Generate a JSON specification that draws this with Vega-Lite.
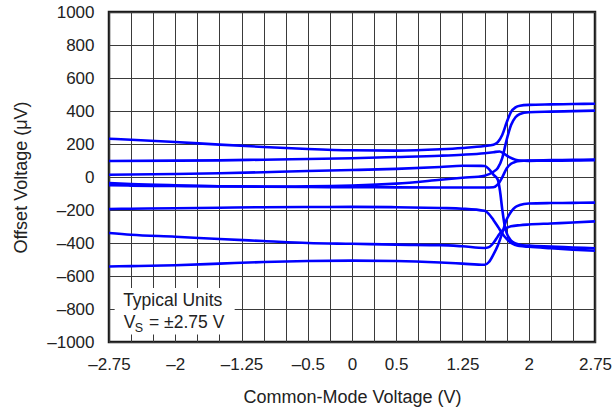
{
  "$schema": "https://vega.github.io/schema/vega-lite/v6.json",
  "width": 486,
  "height": 330,
  "autosize": "none",
  "padding": {"left": 109, "top": 12, "right": 19, "bottom": 66},
  "background": "white",
  "config": {
    "font": "Liberation Sans",
    "view": {"stroke": "#1a1a1a", "strokeWidth": 2.5},
    "axis": {
      "domain": false,
      "ticks": false,
      "grid": true,
      "gridColor": "#3a3a3a",
      "gridWidth": 1,
      "gridOpacity": 1,
      "labelFont": "Liberation Sans",
      "labelFontSize": 17,
      "labelColor": "#222222",
      "titleFont": "Liberation Sans",
      "titleFontSize": 18,
      "titleFontWeight": "normal",
      "titleColor": "#222222"
    }
  },
  "datasets": {
    "curves": [
      {"c": "A", "x": -2.75, "y": 232}, {"c": "A", "x": -2.5, "y": 226}, {"c": "A", "x": -2, "y": 212}, {"c": "A", "x": -1.5, "y": 196}, {"c": "A", "x": -1, "y": 182}, {"c": "A", "x": -0.5, "y": 170}, {"c": "A", "x": 0, "y": 162}, {"c": "A", "x": 0.5, "y": 160}, {"c": "A", "x": 1, "y": 168}, {"c": "A", "x": 1.25, "y": 176}, {"c": "A", "x": 1.5, "y": 188}, {"c": "A", "x": 1.6, "y": 196}, {"c": "A", "x": 1.65, "y": 212}, {"c": "A", "x": 1.7, "y": 255}, {"c": "A", "x": 1.75, "y": 330}, {"c": "A", "x": 1.8, "y": 395}, {"c": "A", "x": 1.85, "y": 422}, {"c": "A", "x": 1.9, "y": 432}, {"c": "A", "x": 2, "y": 437}, {"c": "A", "x": 2.25, "y": 440}, {"c": "A", "x": 2.5, "y": 442}, {"c": "A", "x": 2.75, "y": 444},

      {"c": "B", "x": -2.75, "y": 97}, {"c": "B", "x": -2, "y": 99}, {"c": "B", "x": -1.5, "y": 101}, {"c": "B", "x": -1, "y": 105}, {"c": "B", "x": -0.5, "y": 109}, {"c": "B", "x": 0, "y": 114}, {"c": "B", "x": 0.5, "y": 121}, {"c": "B", "x": 1, "y": 129}, {"c": "B", "x": 1.25, "y": 135}, {"c": "B", "x": 1.5, "y": 144}, {"c": "B", "x": 1.6, "y": 150}, {"c": "B", "x": 1.67, "y": 155}, {"c": "B", "x": 1.72, "y": 142}, {"c": "B", "x": 1.78, "y": 120}, {"c": "B", "x": 1.85, "y": 105}, {"c": "B", "x": 1.9, "y": 100}, {"c": "B", "x": 2, "y": 98}, {"c": "B", "x": 2.25, "y": 99}, {"c": "B", "x": 2.5, "y": 100}, {"c": "B", "x": 2.75, "y": 102},

      {"c": "C", "x": -2.75, "y": 14}, {"c": "C", "x": -2, "y": 18}, {"c": "C", "x": -1.5, "y": 23}, {"c": "C", "x": -1, "y": 29}, {"c": "C", "x": -0.5, "y": 36}, {"c": "C", "x": 0, "y": 42}, {"c": "C", "x": 0.5, "y": 49}, {"c": "C", "x": 1, "y": 61}, {"c": "C", "x": 1.25, "y": 68}, {"c": "C", "x": 1.5, "y": 67}, {"c": "C", "x": 1.55, "y": 48}, {"c": "C", "x": 1.6, "y": 14}, {"c": "C", "x": 1.65, "y": -16}, {"c": "C", "x": 1.675, "y": -85}, {"c": "C", "x": 1.7, "y": -195}, {"c": "C", "x": 1.725, "y": -285}, {"c": "C", "x": 1.75, "y": -338}, {"c": "C", "x": 1.8, "y": -386}, {"c": "C", "x": 1.85, "y": -402}, {"c": "C", "x": 1.9, "y": -410}, {"c": "C", "x": 2, "y": -416}, {"c": "C", "x": 2.25, "y": -422}, {"c": "C", "x": 2.5, "y": -427}, {"c": "C", "x": 2.75, "y": -432},

      {"c": "D", "x": -2.75, "y": -49}, {"c": "D", "x": -2.5, "y": -52}, {"c": "D", "x": -2, "y": -55}, {"c": "D", "x": -1.5, "y": -57}, {"c": "D", "x": -1, "y": -58}, {"c": "D", "x": -0.5, "y": -57}, {"c": "D", "x": 0, "y": -52}, {"c": "D", "x": 0.5, "y": -40}, {"c": "D", "x": 1, "y": -17}, {"c": "D", "x": 1.25, "y": -5}, {"c": "D", "x": 1.5, "y": 8}, {"c": "D", "x": 1.6, "y": 32}, {"c": "D", "x": 1.65, "y": 55}, {"c": "D", "x": 1.7, "y": 115}, {"c": "D", "x": 1.75, "y": 225}, {"c": "D", "x": 1.8, "y": 315}, {"c": "D", "x": 1.85, "y": 362}, {"c": "D", "x": 1.9, "y": 382}, {"c": "D", "x": 2, "y": 392}, {"c": "D", "x": 2.25, "y": 396}, {"c": "D", "x": 2.5, "y": 399}, {"c": "D", "x": 2.75, "y": 402},

      {"c": "E", "x": -2.75, "y": -36}, {"c": "E", "x": -2.5, "y": -42}, {"c": "E", "x": -2, "y": -50}, {"c": "E", "x": -1.5, "y": -56}, {"c": "E", "x": -1, "y": -59}, {"c": "E", "x": -0.5, "y": -61}, {"c": "E", "x": 0, "y": -62}, {"c": "E", "x": 0.5, "y": -63}, {"c": "E", "x": 1, "y": -64}, {"c": "E", "x": 1.25, "y": -64}, {"c": "E", "x": 1.5, "y": -64}, {"c": "E", "x": 1.6, "y": -62}, {"c": "E", "x": 1.65, "y": -45}, {"c": "E", "x": 1.7, "y": -2}, {"c": "E", "x": 1.75, "y": 52}, {"c": "E", "x": 1.8, "y": 80}, {"c": "E", "x": 1.85, "y": 92}, {"c": "E", "x": 1.9, "y": 97}, {"c": "E", "x": 2, "y": 100}, {"c": "E", "x": 2.25, "y": 102}, {"c": "E", "x": 2.5, "y": 104}, {"c": "E", "x": 2.75, "y": 106},

      {"c": "F", "x": -2.75, "y": -194}, {"c": "F", "x": -2.5, "y": -192}, {"c": "F", "x": -2, "y": -189}, {"c": "F", "x": -1.5, "y": -186}, {"c": "F", "x": -1, "y": -183}, {"c": "F", "x": -0.5, "y": -182}, {"c": "F", "x": 0, "y": -181}, {"c": "F", "x": 0.5, "y": -183}, {"c": "F", "x": 1, "y": -188}, {"c": "F", "x": 1.25, "y": -192}, {"c": "F", "x": 1.5, "y": -205}, {"c": "F", "x": 1.55, "y": -225}, {"c": "F", "x": 1.6, "y": -260}, {"c": "F", "x": 1.65, "y": -300}, {"c": "F", "x": 1.7, "y": -342}, {"c": "F", "x": 1.75, "y": -375}, {"c": "F", "x": 1.8, "y": -400}, {"c": "F", "x": 1.85, "y": -412}, {"c": "F", "x": 1.9, "y": -418}, {"c": "F", "x": 2, "y": -423}, {"c": "F", "x": 2.25, "y": -432}, {"c": "F", "x": 2.5, "y": -440}, {"c": "F", "x": 2.75, "y": -447},

      {"c": "G", "x": -2.75, "y": -339}, {"c": "G", "x": -2.5, "y": -350}, {"c": "G", "x": -2, "y": -362}, {"c": "G", "x": -1.5, "y": -376}, {"c": "G", "x": -1, "y": -388}, {"c": "G", "x": -0.5, "y": -400}, {"c": "G", "x": 0, "y": -405}, {"c": "G", "x": 0.5, "y": -410}, {"c": "G", "x": 1, "y": -413}, {"c": "G", "x": 1.25, "y": -420}, {"c": "G", "x": 1.5, "y": -430}, {"c": "G", "x": 1.55, "y": -425}, {"c": "G", "x": 1.6, "y": -400}, {"c": "G", "x": 1.65, "y": -360}, {"c": "G", "x": 1.7, "y": -325}, {"c": "G", "x": 1.75, "y": -308}, {"c": "G", "x": 1.8, "y": -299}, {"c": "G", "x": 1.9, "y": -292}, {"c": "G", "x": 2, "y": -288}, {"c": "G", "x": 2.25, "y": -282}, {"c": "G", "x": 2.5, "y": -276}, {"c": "G", "x": 2.75, "y": -269},

      {"c": "H", "x": -2.75, "y": -542}, {"c": "H", "x": -2.5, "y": -540}, {"c": "H", "x": -2, "y": -535}, {"c": "H", "x": -1.5, "y": -525}, {"c": "H", "x": -1, "y": -515}, {"c": "H", "x": -0.5, "y": -509}, {"c": "H", "x": 0, "y": -507}, {"c": "H", "x": 0.5, "y": -509}, {"c": "H", "x": 1, "y": -518}, {"c": "H", "x": 1.25, "y": -525}, {"c": "H", "x": 1.5, "y": -532}, {"c": "H", "x": 1.55, "y": -515}, {"c": "H", "x": 1.6, "y": -470}, {"c": "H", "x": 1.65, "y": -415}, {"c": "H", "x": 1.7, "y": -340}, {"c": "H", "x": 1.75, "y": -258}, {"c": "H", "x": 1.8, "y": -210}, {"c": "H", "x": 1.85, "y": -182}, {"c": "H", "x": 1.9, "y": -170}, {"c": "H", "x": 2, "y": -161}, {"c": "H", "x": 2.25, "y": -158}, {"c": "H", "x": 2.5, "y": -157}, {"c": "H", "x": 2.75, "y": -155}
    ],
    "note": [{"t1": "Typical Units", "v": "V", "s": "S", "rest": "= ±2.75 V"}]
  },
  "layer": [
    {
      "data": {"name": "curves"},
      "mark": {"type": "line", "interpolate": "monotone", "color": "#0000ff", "strokeWidth": 2.6, "clip": true},
      "encoding": {
        "x": {
          "field": "x", "type": "quantitative",
          "scale": {"domain": [-2.75, 2.75], "nice": false, "zero": false},
          "axis": {
            "title": "Common-Mode Voltage (V)",
            "values": [-2.75, -2.5, -2.25, -2, -1.75, -1.5, -1.25, -1, -0.75, -0.5, -0.25, 0, 0.25, 0.5, 0.75, 1, 1.25, 1.5, 1.75, 2, 2.25, 2.5, 2.75],
            "tickCount": 40,
            "labelExpr": "indexof([-2.75, -2, -1.25, -0.5, 0, 0.5, 1.25, 2, 2.75], datum.value) >= 0 ? replace(format(datum.value, ''), '−', '–') : ''",
            "labelPadding": 14,
            "labelFlush": false,
            "labelOverlap": false,
            "titleY": 60,
            "titleBaseline": "alphabetic"
          }
        },
        "y": {
          "field": "y", "type": "quantitative",
          "scale": {"domain": [-1000, 1000], "nice": false},
          "axis": {
            "title": "Offset Voltage (μV)",
            "values": [-1000, -800, -600, -400, -200, 0, 200, 400, 600, 800, 1000],
            "tickCount": 40,
            "labelExpr": "replace(format(datum.value, ''), '−', '–')",
            "labelPadding": 15,
            "labelFlush": false,
            "labelOverlap": false,
            "titleX": -83,
            "titleBaseline": "alphabetic"
          }
        },
        "detail": {"field": "c", "type": "nominal"}
      }
    },
    {
      "data": {"name": "note"},
      "mark": {"type": "rect", "fill": "white", "stroke": null},
      "encoding": {
        "x": {"datum": -2.686},
        "x2": {"datum": -1.328},
        "y": {"datum": -673},
        "y2": {"datum": -955}
      }
    },
    {
      "data": {"name": "note"},
      "mark": {"type": "text", "align": "left", "baseline": "alphabetic", "fontSize": 17.5, "color": "#222222", "font": "Liberation Sans"},
      "encoding": {
        "x": {"datum": -2.59},
        "y": {"datum": -780},
        "text": {"field": "t1"}
      }
    },
    {
      "data": {"name": "note"},
      "mark": {"type": "text", "align": "left", "baseline": "alphabetic", "fontSize": 17.5, "color": "#222222", "font": "Liberation Sans"},
      "encoding": {
        "x": {"datum": -2.584},
        "y": {"datum": -915},
        "text": {"field": "v"}
      }
    },
    {
      "data": {"name": "note"},
      "mark": {"type": "text", "align": "left", "baseline": "alphabetic", "fontSize": 12.5, "color": "#222222", "font": "Liberation Sans"},
      "encoding": {
        "x": {"datum": -2.459},
        "y": {"datum": -937},
        "text": {"field": "s"}
      }
    },
    {
      "data": {"name": "note"},
      "mark": {"type": "text", "align": "left", "baseline": "alphabetic", "fontSize": 17.5, "color": "#222222", "font": "Liberation Sans"},
      "encoding": {
        "x": {"datum": -2.297},
        "y": {"datum": -915},
        "text": {"field": "rest"}
      }
    }
  ]
}
